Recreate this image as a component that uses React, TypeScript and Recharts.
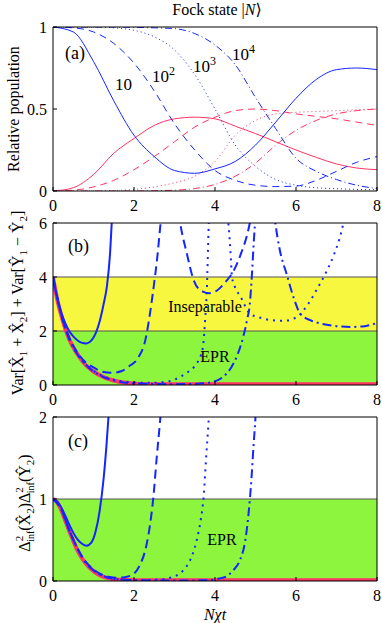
import React from 'react';
import { LineChart, Line, XAxis, YAxis, ReferenceArea, ReferenceLine } from 'recharts';

// ---------- Panel (a): relative population, Fock state |N> ----------
const aX = [0, 0.5, 1, 1.5, 2, 2.5, 3, 3.5, 4, 4.5, 5, 5.5, 6, 6.5, 7, 7.5, 8];
const aBlue10 = [1, 0.97, 0.79, 0.55, 0.34, 0.21, 0.125, 0.108, 0.135, 0.18, 0.28, 0.42, 0.565, 0.68, 0.74, 0.75, 0.74];
const aRed10 = [0, 0.02, 0.1, 0.23, 0.32, 0.4, 0.44, 0.45, 0.44, 0.395, 0.35, 0.3, 0.25, 0.205, 0.165, 0.14, 0.13];
const aBlue100 = [1, 0.995, 0.97, 0.9, 0.78, 0.61, 0.41, 0.25, 0.125, 0.065, 0.035, 0.027, 0.03, 0.065, 0.12, 0.175, 0.21];
const aRed100 = [0, 0.005, 0.025, 0.065, 0.13, 0.21, 0.3, 0.39, 0.45, 0.49, 0.5, 0.49, 0.47, 0.455, 0.44, 0.42, 0.4];
const aBlue1000 = [1, 1, 1, 0.995, 0.98, 0.94, 0.86, 0.71, 0.5, 0.28, 0.15, 0.07, 0.035, 0.02, 0.014, 0.01, 0.008];
const aRed1000 = [0, 0, 0, 0.003, 0.01, 0.025, 0.05, 0.09, 0.18, 0.34, 0.43, 0.47, 0.48, 0.485, 0.49, 0.495, 0.5];
const aBlue10000 = [1, 1, 1, 1, 0.998, 0.995, 0.99, 0.96, 0.89, 0.77, 0.57, 0.38, 0.2, 0.12, 0.07, 0.035, 0.015];
const aRed10000 = [0, 0, 0, 0, 0, 0.002, 0.005, 0.015, 0.04, 0.09, 0.17, 0.28, 0.37, 0.43, 0.47, 0.49, 0.5];

// ---------- Panel (b): Var[X1+X2] + Var[Y1-Y2] ----------
const bRedX = [0, 0.1, 0.2, 0.3, 0.4, 0.5, 0.6, 0.8, 1.0, 1.2, 1.4, 1.6, 1.8, 2.0, 2.5, 3, 4, 8];
const bRedY = [4, 3.2, 2.6, 2.1, 1.7, 1.4, 1.15, 0.75, 0.5, 0.33, 0.21, 0.13, 0.08, 0.05, 0.03, 0.03, 0.03, 0.03];
const bSolidX = [0, 0.1, 0.2, 0.3, 0.4, 0.5, 0.6, 0.7, 0.83, 0.95, 1.05, 1.16, 1.25, 1.33, 1.41, 1.45, 1.5];
const bSolidY = [4, 3.25, 2.7, 2.3, 2.0, 1.8, 1.66, 1.57, 1.54, 1.65, 1.9, 2.4, 3.0, 3.64, 4.9, 6.0, 7.2];
const bDashAX = [0, 0.2, 0.4, 0.6, 0.8, 1.0, 1.2, 1.45, 1.7, 1.9, 2.1, 2.3, 2.4, 2.5, 2.58, 2.65, 2.7];
const bDashAY = [4, 2.65, 1.75, 1.2, 0.85, 0.65, 0.5, 0.45, 0.52, 0.72, 1.0, 1.8, 2.7, 3.8, 4.8, 5.9, 6.6];
const bDashBX = [3.1, 3.14, 3.3, 3.47, 3.6, 3.7, 3.86, 4.05, 4.25, 4.45, 4.65, 4.8, 4.9];
const bDashBY = [6.4, 6.0, 4.9, 3.9, 3.55, 3.46, 3.4, 3.5, 3.8, 4.2, 4.9, 5.6, 6.3];
const bDotAX = [0, 0.2, 0.4, 0.6, 0.8, 1.0, 1.2, 1.5, 1.8, 2.1, 2.4, 2.7, 3.0, 3.14, 3.35, 3.55, 3.65, 3.71, 3.76, 3.8, 3.84, 3.86];
const bDotAY = [4, 2.62, 1.72, 1.15, 0.78, 0.52, 0.35, 0.2, 0.12, 0.09, 0.08, 0.1, 0.2, 0.3, 0.5, 0.8, 1.1, 1.5, 2.5, 3.6, 5.7, 6.5];
const bDotBX = [4.3, 4.33, 4.38, 4.42, 4.5, 4.62, 4.86, 5.1, 5.4, 5.7, 6.0, 6.3, 6.5, 6.75, 6.93, 7.07, 7.17, 7.22];
const bDotBY = [6.5, 6.0, 5.0, 4.0, 3.6, 3.3, 2.65, 2.5, 2.4, 2.38, 2.5, 3.0, 3.5, 4.2, 4.8, 5.4, 6.0, 6.4];
const bDashDotAX = [0, 0.2, 0.4, 0.6, 0.8, 1.0, 1.2, 1.5, 2, 2.5, 3, 3.5, 3.9, 4.2, 4.4, 4.55, 4.7, 4.79, 4.86, 4.92, 4.97, 5.02];
const bDashDotAY = [4, 2.62, 1.72, 1.15, 0.77, 0.5, 0.33, 0.17, 0.06, 0.04, 0.03, 0.04, 0.1, 0.3, 0.65, 1.1, 1.8, 2.4, 3.0, 4.3, 5.6, 6.5];
const bDashDotBX = [5.45, 5.49, 5.6, 5.77, 5.95, 6.1, 6.35, 6.6, 7.0, 7.34, 7.7, 8];
const bDashDotBY = [6.5, 6.0, 5.0, 4.1, 3.2, 2.65, 2.4, 2.28, 2.18, 2.15, 2.18, 2.3];

// ---------- Panel (c): Δ²inf(X2) Δ²inf(Y2) ----------
const cRedX = [0, 0.1, 0.2, 0.3, 0.4, 0.5, 0.6, 0.7, 0.8, 1.0, 1.2, 1.4, 1.6, 2, 3, 8];
const cRedY = [1, 0.96, 0.87, 0.74, 0.61, 0.49, 0.38, 0.29, 0.22, 0.12, 0.06, 0.03, 0.015, 0.01, 0.01, 0.01];
const cSolidX = [0, 0.1, 0.2, 0.3, 0.4, 0.5, 0.6, 0.7, 0.83, 0.95, 1.05, 1.15, 1.25, 1.32, 1.37, 1.42];
const cSolidY = [1, 0.97, 0.9, 0.8, 0.69, 0.59, 0.51, 0.46, 0.43, 0.47, 0.6, 0.85, 1.25, 1.65, 2.0, 2.4];
const cDashX = [0, 0.2, 0.4, 0.6, 0.8, 1.0, 1.2, 1.4, 1.6, 1.8, 2.0, 2.15, 2.3, 2.4, 2.48, 2.56, 2.64, 2.7];
const cDashY = [1, 0.88, 0.62, 0.4, 0.24, 0.14, 0.08, 0.05, 0.04, 0.05, 0.09, 0.2, 0.42, 0.7, 1.03, 1.5, 1.93, 2.3];
const cDotX = [0, 0.2, 0.4, 0.6, 0.8, 1.0, 1.2, 1.4, 1.6, 2, 2.5, 2.8, 2.97, 3.15, 3.3, 3.45, 3.55, 3.65, 3.72, 3.78, 3.84, 3.9];
const cDotY = [1, 0.88, 0.62, 0.4, 0.23, 0.13, 0.07, 0.035, 0.02, 0.01, 0.015, 0.03, 0.05, 0.1, 0.18, 0.33, 0.5, 0.75, 1.03, 1.5, 1.93, 2.4];
const cDashDotX = [0, 0.2, 0.4, 0.6, 0.8, 1.0, 1.2, 1.4, 1.6, 2, 3, 3.8, 4.1, 4.29, 4.45, 4.62, 4.75, 4.83, 4.9, 4.95, 5.0, 5.04];
const cDashDotY = [1, 0.88, 0.62, 0.4, 0.23, 0.13, 0.07, 0.035, 0.02, 0.01, 0.005, 0.01, 0.03, 0.06, 0.13, 0.26, 0.5, 0.83, 1.25, 1.64, 2.0, 2.4];

const xTicks = [0, 2, 4, 6, 8];
const aTicks = [0, 0.5, 1];
const bTicks = [0, 2, 4, 6];
const cTicks = [0, 1, 2];

const BLUE = '#1426ff';
const RED = '#ff3366';
const GREEN = '#8ef53f';
const YELLOW = '#f7f73f';
const FONT = 'Liberation Serif, Times New Roman, DejaVu Serif, serif';

const pts = (xs: number[], ys: number[]) => xs.map((x, i) => ({ x, y: ys[i] }));

const tickStyle = { fontFamily: FONT, fontSize: 16, fill: '#000', style: { fontFamily: FONT } };

function renderAxes(yDomain: [number, number], yTicks: number[]) {
  return [
    <XAxis key="xb" xAxisId="b" type="number" dataKey="x" domain={[0, 8]} ticks={xTicks} height={24}
      tickSize={-4} tickMargin={13} tick={tickStyle} stroke="#000" axisLine={{ stroke: '#000' }} tickLine={{ stroke: '#000' }} allowDataOverflow />,
    <XAxis key="xt" xAxisId="t" orientation="top" type="number" dataKey="x" domain={[0, 8]} ticks={xTicks} height={1}
      tickSize={-4} tick={false} axisLine={{ stroke: '#000' }} tickLine={{ stroke: '#000' }} allowDataOverflow />,
    <YAxis key="yl" yAxisId="l" type="number" domain={yDomain} ticks={yTicks} width={53} allowDataOverflow
      tickSize={-4} tickMargin={10} tick={tickStyle} axisLine={{ stroke: '#000' }} tickLine={{ stroke: '#000' }} />,
    <YAxis key="yr" yAxisId="r" orientation="right" type="number" domain={yDomain} ticks={yTicks} width={1} allowDataOverflow
      tickSize={-4} tick={false} axisLine={{ stroke: '#000' }} tickLine={{ stroke: '#000' }} />,
  ];
}

type LS = { data: { x: number; y: number }[]; color: string; w: number; dash?: string };

function renderLines(list: LS[]) {
  return list.map((l, i) => (
    <Line key={'ln' + i} xAxisId="b" yAxisId="l" data={l.data} dataKey="y" type="monotone" stroke={l.color}
      strokeWidth={l.w} strokeDasharray={l.dash} dot={false} activeDot={false} isAnimationActive={false} legendType="none" />
  ));
}

const DASH1 = '7 5';
const DOT1 = '1 3';
const DD1 = '7 3 1 3';
const DASH2 = '9 5';
const DOT2 = '2 5';
const DD2 = '9 4 2 4';

export default function App() {
  const margin = { top: 26, right: 4, bottom: 0, left: 0 };
  const aLines: LS[] = [
    { data: pts(aX, aRed10), color: RED, w: 1 },
    { data: pts(aX, aRed100), color: RED, w: 1, dash: DASH1 },
    { data: pts(aX, aRed1000), color: RED, w: 1, dash: DOT1 },
    { data: pts(aX, aRed10000), color: RED, w: 1, dash: DD1 },
    { data: pts(aX, aBlue10), color: BLUE, w: 1 },
    { data: pts(aX, aBlue100), color: BLUE, w: 1, dash: DASH1 },
    { data: pts(aX, aBlue1000), color: BLUE, w: 1, dash: DOT1 },
    { data: pts(aX, aBlue10000), color: BLUE, w: 1, dash: DD1 },
  ];
  const bLines: LS[] = [
    { data: pts(bRedX, bRedY), color: RED, w: 4 },
    { data: pts(bSolidX, bSolidY), color: BLUE, w: 2 },
    { data: pts(bDashAX, bDashAY), color: BLUE, w: 2, dash: DASH2 },
    { data: pts(bDashBX, bDashBY), color: BLUE, w: 2, dash: DASH2 },
    { data: pts(bDotAX, bDotAY), color: BLUE, w: 2, dash: DOT2 },
    { data: pts(bDotBX, bDotBY), color: BLUE, w: 2, dash: DOT2 },
    { data: pts(bDashDotAX, bDashDotAY), color: BLUE, w: 2, dash: DD2 },
    { data: pts(bDashDotBX, bDashDotBY), color: BLUE, w: 2, dash: DD2 },
  ];
  const cLines: LS[] = [
    { data: pts(cRedX, cRedY), color: RED, w: 4 },
    { data: pts(cSolidX, cSolidY), color: BLUE, w: 2 },
    { data: pts(cDashX, cDashY), color: BLUE, w: 2, dash: DASH2 },
    { data: pts(cDotX, cDotY), color: BLUE, w: 2, dash: DOT2 },
    { data: pts(cDashDotX, cDashDotY), color: BLUE, w: 2, dash: DD2 },
  ];

  const txt = { fontFamily: FONT, fill: '#000', style: { fontFamily: FONT } } as const;

  return (
    <div style={{ position: 'absolute', left: 0, top: 0, width: 382, height: 623, background: '#fff', overflow: 'hidden', fontFamily: FONT }}>
      <div style={{ position: 'absolute', left: 0, top: 0 }}>
        <LineChart width={382} height={215} margin={margin}>
          {renderAxes([0, 1], aTicks)}
          {renderLines(aLines)}
        </LineChart>
      </div>
      <div style={{ position: 'absolute', left: 0, top: 196 }}>
        <LineChart width={382} height={213} margin={margin}>
          <ReferenceArea xAxisId="b" yAxisId="l" x1={0} x2={8} y1={0} y2={2} fill={GREEN} fillOpacity={1} stroke="none" />
          <ReferenceArea xAxisId="b" yAxisId="l" x1={0} x2={8} y1={2} y2={4} fill={YELLOW} fillOpacity={1} stroke="none" />
          <ReferenceLine xAxisId="b" yAxisId="l" y={2} stroke="#555" strokeWidth={1} />
          <ReferenceLine xAxisId="b" yAxisId="l" y={4} stroke="#555" strokeWidth={1} />
          {renderAxes([0, 6], bTicks)}
          {renderLines(bLines)}
        </LineChart>
      </div>
      <div style={{ position: 'absolute', left: 0, top: 390 }}>
        <LineChart width={382} height={215} margin={margin}>
          <ReferenceArea xAxisId="b" yAxisId="l" x1={0} x2={8} y1={0} y2={1} fill={GREEN} fillOpacity={1} stroke="none" />
          <ReferenceLine xAxisId="b" yAxisId="l" y={1} stroke="#555" strokeWidth={1} />
          {renderAxes([0, 2], cTicks)}
          {renderLines(cLines)}
        </LineChart>
      </div>
      <svg width={382} height={623} style={{ position: 'absolute', left: 0, top: 0, pointerEvents: 'none' }}>
        <text {...txt} x={217} y={15} fontSize={16} textAnchor="middle">
          Fock state |<tspan fontStyle="italic">N</tspan>⟩
        </text>
        <text {...txt} x={215} y={620} fontSize={16} textAnchor="middle" fontStyle="italic">Nχt</text>
        <text {...txt} fontSize={16} textAnchor="middle" transform="translate(19,109) rotate(-90)">Relative population</text>
        <text {...txt} fontSize={16} textAnchor="middle" transform="translate(23,303) rotate(-90)">
          Var[X̂<tspan fontSize={11} dy={4}>1</tspan><tspan dy={-4}> + X̂</tspan><tspan fontSize={11} dy={4}>2</tspan><tspan dy={-4}>] + Var[Ŷ</tspan><tspan fontSize={11} dy={4}>1</tspan><tspan dy={-4}> − Ŷ</tspan><tspan fontSize={11} dy={4}>2</tspan><tspan dy={-4}>]</tspan>
        </text>
        <text {...txt} fontSize={16} textAnchor="middle" transform="translate(30,503) rotate(-90)">
          Δ<tspan fontSize={11} dy={-7}>2</tspan><tspan fontSize={10} dx={-6} dy={11}>inf</tspan><tspan dy={-4}>(X̂</tspan><tspan fontSize={11} dy={4}>2</tspan><tspan dy={-4}>)Δ</tspan><tspan fontSize={11} dy={-7}>2</tspan><tspan fontSize={10} dx={-6} dy={11}>inf</tspan><tspan dy={-4}>(Ŷ</tspan><tspan fontSize={11} dy={4}>2</tspan><tspan dy={-4}>)</tspan>
        </text>
        <text {...txt} x={65} y={59} fontSize={18}>(a)</text>
        <text {...txt} x={115} y={90} fontSize={17}>10</text>
        <text {...txt} x={152} y={82} fontSize={17}>10<tspan fontSize={12} dy={-7}>2</tspan></text>
        <text {...txt} x={193} y={72} fontSize={17}>10<tspan fontSize={12} dy={-7}>3</tspan></text>
        <text {...txt} x={232} y={60} fontSize={17}>10<tspan fontSize={12} dy={-7}>4</tspan></text>
        <text {...txt} x={68} y={252} fontSize={18}>(b)</text>
        <text {...txt} x={205} y={312} fontSize={16} textAnchor="middle">Inseparable</text>
        <text {...txt} x={215} y={362} fontSize={16} textAnchor="middle">EPR</text>
        <text {...txt} x={68} y={447} fontSize={18}>(c)</text>
        <text {...txt} x={222} y={545} fontSize={16} textAnchor="middle">EPR</text>
      </svg>
    </div>
  );
}
